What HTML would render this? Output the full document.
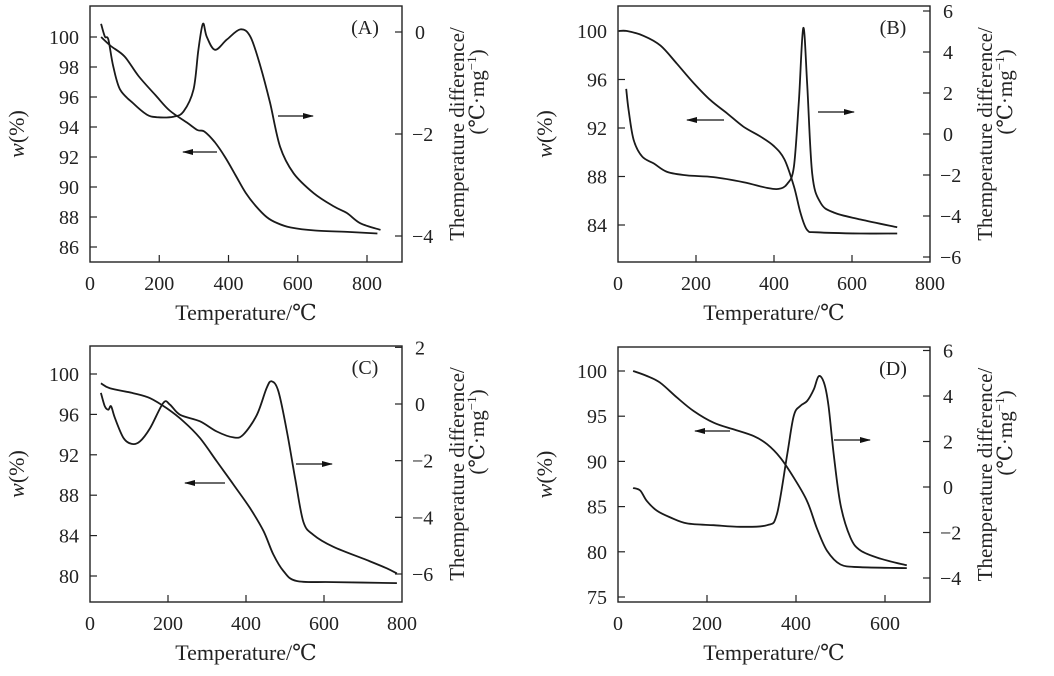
<!DOCTYPE html>
<html><head><meta charset="utf-8">
<style>
html,body{margin:0;padding:0;background:#fff;}
svg{display:block;font-family:"Liberation Serif","DejaVu Serif",serif;}
</style></head>
<body>
<svg id="fig" width="1054" height="676" viewBox="0 0 1054 676" xmlns="http://www.w3.org/2000/svg"></svg>
<script>
// ---- Panel A data ----
const aTgT = [32,60,100,140,190,230,280,310,330,360,390,420,450,480,510,540,580,650,750,830];
const aTgW = [100,99.4,98.7,97.4,96.1,95.1,94.3,93.8,93.7,93.0,92.0,90.8,89.6,88.7,88.0,87.6,87.3,87.1,87.0,86.9];
const aDtT = [32,43,53,67,87,125,164,193,241,270,299,313,326,337,361,395,434,463,492,520,549,588,646,704,742,781,839];
const aDtD = [0.16,-0.09,-0.15,-0.67,-1.13,-1.40,-1.62,-1.67,-1.66,-1.56,-1.13,-0.35,0.16,-0.09,-0.35,-0.15,0.05,-0.09,-0.67,-1.39,-2.25,-2.77,-3.16,-3.42,-3.55,-3.75,-3.88];
const aXTicks = [0,200,400,600,800];
const aLTicks = [86,88,90,92,94,96,98,100];
const aRTicks = [0,-2,-4];
// ---- Panel B data ----
const bTgT = [2,23,66,109,151,194,237,280,322,365,400,427,451,468,485,511,622,716];
const bTgW = [100,100,99.6,98.8,97.3,95.7,94.3,93.2,92.1,91.3,90.5,89.4,87.2,85.0,83.6,83.4,83.3,83.3];
const bDtT = [21,27,40,62,92,126,177,245,322,382,412,434,451,464,475,485,498,519,553,622,716];
const bDtD = [2.2,1.2,-0.28,-1.1,-1.44,-1.85,-2.02,-2.1,-2.35,-2.63,-2.68,-2.43,-1.6,1.7,5.17,2.5,-1.93,-3.34,-3.83,-4.17,-4.55];
const bXTicks = [0,200,400,600,800];
const bLTicks = [84,88,92,96,100];
const bRTicks = [6,4,2,0,-2,-4,-6];
// ---- Panel C data ----
const cTgT = [28,51,111,154,197,240,282,325,368,410,445,470,496,530,624,787];
const cTgW = [99.08,98.59,98.1,97.6,96.6,95.3,93.65,91.35,89.05,86.74,84.44,82.14,80.5,79.5,79.4,79.3];
const cDtT = [28,38,47,54,64,86,107,128,154,188,205,231,282,325,368,393,428,453,466,483,505,526,547,573,624,710,761,787];
const cDtD = [0.39,-0.08,-0.2,-0.08,-0.5,-1.2,-1.41,-1.32,-0.85,0.04,-0.02,-0.38,-0.61,-0.97,-1.18,-1.08,-0.38,0.57,0.8,0.45,-0.97,-2.62,-4.15,-4.62,-5.04,-5.51,-5.8,-5.98];
const cXTicks = [0,200,400,600,800];
const cLTicks = [80,84,88,92,96,100];
const cRTicks = [2,0,-2,-4,-6];
// ---- Panel D data ----
const dTgT = [34,65,95,133,170,215,260,305,335,365,395,425,447,470,500,545,649];
const dTgW = [100,99.45,98.7,97.05,95.57,94.28,93.54,92.8,91.9,90.4,88.2,85.6,82.6,80.1,78.6,78.3,78.2];
const dDtT = [34,50,65,88,118,155,215,275,335,357,380,395,410,425,440,451,463,473,485,500,522,545,590,649];
const dDtD = [-0.04,-0.16,-0.62,-1.05,-1.34,-1.6,-1.68,-1.75,-1.68,-1.2,1.4,3.13,3.57,3.78,4.29,4.87,4.58,3.57,1.4,-0.77,-2.21,-2.79,-3.15,-3.44];
const dXTicks = [0,200,400,600];
const dLTicks = [75,80,85,90,95,100];
const dRTicks = [6,4,2,0,-2,-4];

const NS = "http://www.w3.org/2000/svg";
const svg = document.getElementById('fig');
function mk(tag, attrs, parent){const e=document.createElementNS(NS,tag);for(const k in attrs)e.setAttribute(k,attrs[k]);(parent||svg).appendChild(e);return e;}
function lin(d0,d1,r0,r1){return v=>r0+(v-d0)*(r1-r0)/(d1-d0);}
function smooth(pts){
  let d='M'+pts[0][0].toFixed(1)+','+pts[0][1].toFixed(1);
  for(let i=0;i<pts.length-1;i++){
    const p0=pts[i-1]||pts[i],p1=pts[i],p2=pts[i+1],p3=pts[i+2]||p2;
    const c1=[p1[0]+(p2[0]-p0[0])/6,p1[1]+(p2[1]-p0[1])/6];
    const c2=[p2[0]-(p3[0]-p1[0])/6,p2[1]-(p3[1]-p1[1])/6];
    d+=' C'+c1[0].toFixed(1)+','+c1[1].toFixed(1)+' '+c2[0].toFixed(1)+','+c2[1].toFixed(1)+' '+p2[0].toFixed(1)+','+p2[1].toFixed(1);
  }
  return d;
}
function fmt(v){return v<0?'\u2212'+Math.abs(v):String(v);}

const panels = [
 {id:'a',lab:'(A)',box:[90,6,402,262],x:[0,90,800,367],l:[100,37,86,247],r:[0,32,-4,236],
  tgT:aTgT,tgW:aTgW,dtT:aDtT,dtD:aDtD,xt:aXTicks,lt:aLTicks,rt:aRTicks,
  arL:[217,183,152],arR:[278,313,116]},
 {id:'b',lab:'(B)',box:[618,6,930,262],x:[0,618,800,930],l:[100,31,84,225],r:[0,134,-6,257],
  tgT:bTgT,tgW:bTgW,dtT:bDtT,dtD:bDtD,xt:bXTicks,lt:bLTicks,rt:bRTicks,
  arL:[724,687,120],arR:[818,854,112]},
 {id:'c',lab:'(C)',box:[90,346,402,602],x:[0,90,800,402],l:[100,374,80,576],r:[0,404,-6,574],
  tgT:cTgT,tgW:cTgW,dtT:cDtT,dtD:cDtD,xt:cXTicks,lt:cLTicks,rt:cRTicks,
  arL:[225,185,483],arR:[296,332,464]},
 {id:'d',lab:'(D)',box:[618,347,930,602],x:[0,618,600,885],l:[100,371,75,597],r:[0,487,-4,578],
  tgT:dTgT,tgW:dTgW,dtT:dDtT,dtD:dDtD,xt:dXTicks,lt:dLTicks,rt:dRTicks,
  arL:[730,695,431],arR:[834,870,440]}
];

const defs = mk('defs',{});
const mrk = mk('marker',{id:'ah',markerWidth:'11',markerHeight:'6',refX:'10',refY:'3',orient:'auto',markerUnits:'userSpaceOnUse'},defs);
mk('path',{d:'M0,0 L11,3 L0,6 Z',fill:'#111'},mrk);

panels.forEach(p=>{
  const g = mk('g',{});
  
  
  const [x0,y0,x1,y1]=p.box;
  const X=lin(p.x[0],p.x[2],p.x[1],p.x[3]);
  const YL=lin(p.l[0],p.l[2],p.l[1],p.l[3]);
  const YR=lin(p.r[0],p.r[2],p.r[1],p.r[3]);
  const frame = mk('rect',{x:x0,y:y0,width:x1-x0,height:y1-y0,fill:'none',stroke:'#222','stroke-width':1.4},g);
  
  
  p.xt.forEach(t=>{
    const x=X(t);
    if(x>x0+1&&x<x1-1) mk('line',{x1:x,y1:y1,x2:x,y2:y1-7,stroke:'#222','stroke-width':1.2},g);
    const tx=mk('text',{x:x,y:y1+28,'text-anchor':'middle','font-size':20,fill:'#222'},g);
    tx.textContent=t;
    
    
  });
  p.lt.forEach(t=>{
    const y=YL(t);
    mk('line',{x1:x0,y1:y,x2:x0+7,y2:y,stroke:'#222','stroke-width':1.2},g);
    const tx=mk('text',{x:x0-11,y:y+7,'text-anchor':'end','font-size':20,fill:'#222'},g);
    tx.textContent=t;
    
    
  });
  p.rt.forEach(t=>{
    const y=YR(t);
    mk('line',{x1:x1,y1:y,x2:x1-7,y2:y,stroke:'#222','stroke-width':1.2},g);
    const tx=mk('text',{x:t<0?x1+10:x1+13,y:y+7,'text-anchor':'start','font-size':20,fill:'#222'},g);
    tx.textContent=fmt(t);
    
    
  });
  const tg = mk('path',{d:smooth(p.tgT.map((t,i)=>[X(t),YL(p.tgW[i])])),fill:'none',stroke:'#1a1a1a','stroke-width':1.8},g);
  
  
  const dt = mk('path',{d:smooth(p.dtT.map((t,i)=>[X(t),YR(p.dtD[i])])),fill:'none',stroke:'#1a1a1a','stroke-width':1.8},g);
  
  
  const a1 = mk('line',{x1:p.arL[0],y1:p.arL[2],x2:p.arL[1],y2:p.arL[2],stroke:'#111','stroke-width':1.3,'marker-end':'url(#ah)'},g);
  
  
  const a2 = mk('line',{x1:p.arR[0],y1:p.arR[2],x2:p.arR[1],y2:p.arR[2],stroke:'#111','stroke-width':1.3,'marker-end':'url(#ah)'},g);
  
  
  const lb = mk('text',{x:x1-37,y:y0+28,'text-anchor':'middle','font-size':20,fill:'#222'},g);
  lb.textContent=p.lab;
  
  
  const xt = mk('text',{x:(x0+x1)/2,y:y1+58,'text-anchor':'middle','font-size':22,fill:'#222'},g);
  xt.textContent='Temperature/\u2103';
  
  
  const cy=(y0+y1)/2;
  const lx = x0-66;
  const yt = mk('text',{x:lx,y:cy,'text-anchor':'middle','font-size':22,fill:'#222',transform:'rotate(-90 '+lx+' '+cy+')'},g);
  yt.innerHTML='<tspan font-style="italic">w</tspan>(%)';
  
  
  const r1x=x1+62, r2x=x1+82;
  const rt1 = mk('text',{x:r1x,y:cy,'text-anchor':'middle','font-size':21,fill:'#222',transform:'rotate(-90 '+r1x+' '+cy+')'},g);
  rt1.textContent='Themperature difference/';
  
  
  const c2=y0+86;
  const rt2 = mk('text',{x:r2x,y:c2,'text-anchor':'middle','font-size':21,fill:'#222',transform:'rotate(-90 '+r2x+' '+c2+')'},g);
  rt2.innerHTML='(\u2103\u00b7mg<tspan font-size="13" dy="-8">\u22121</tspan><tspan dy="8">)</tspan>';
  
  
});
</script>
</body></html>
